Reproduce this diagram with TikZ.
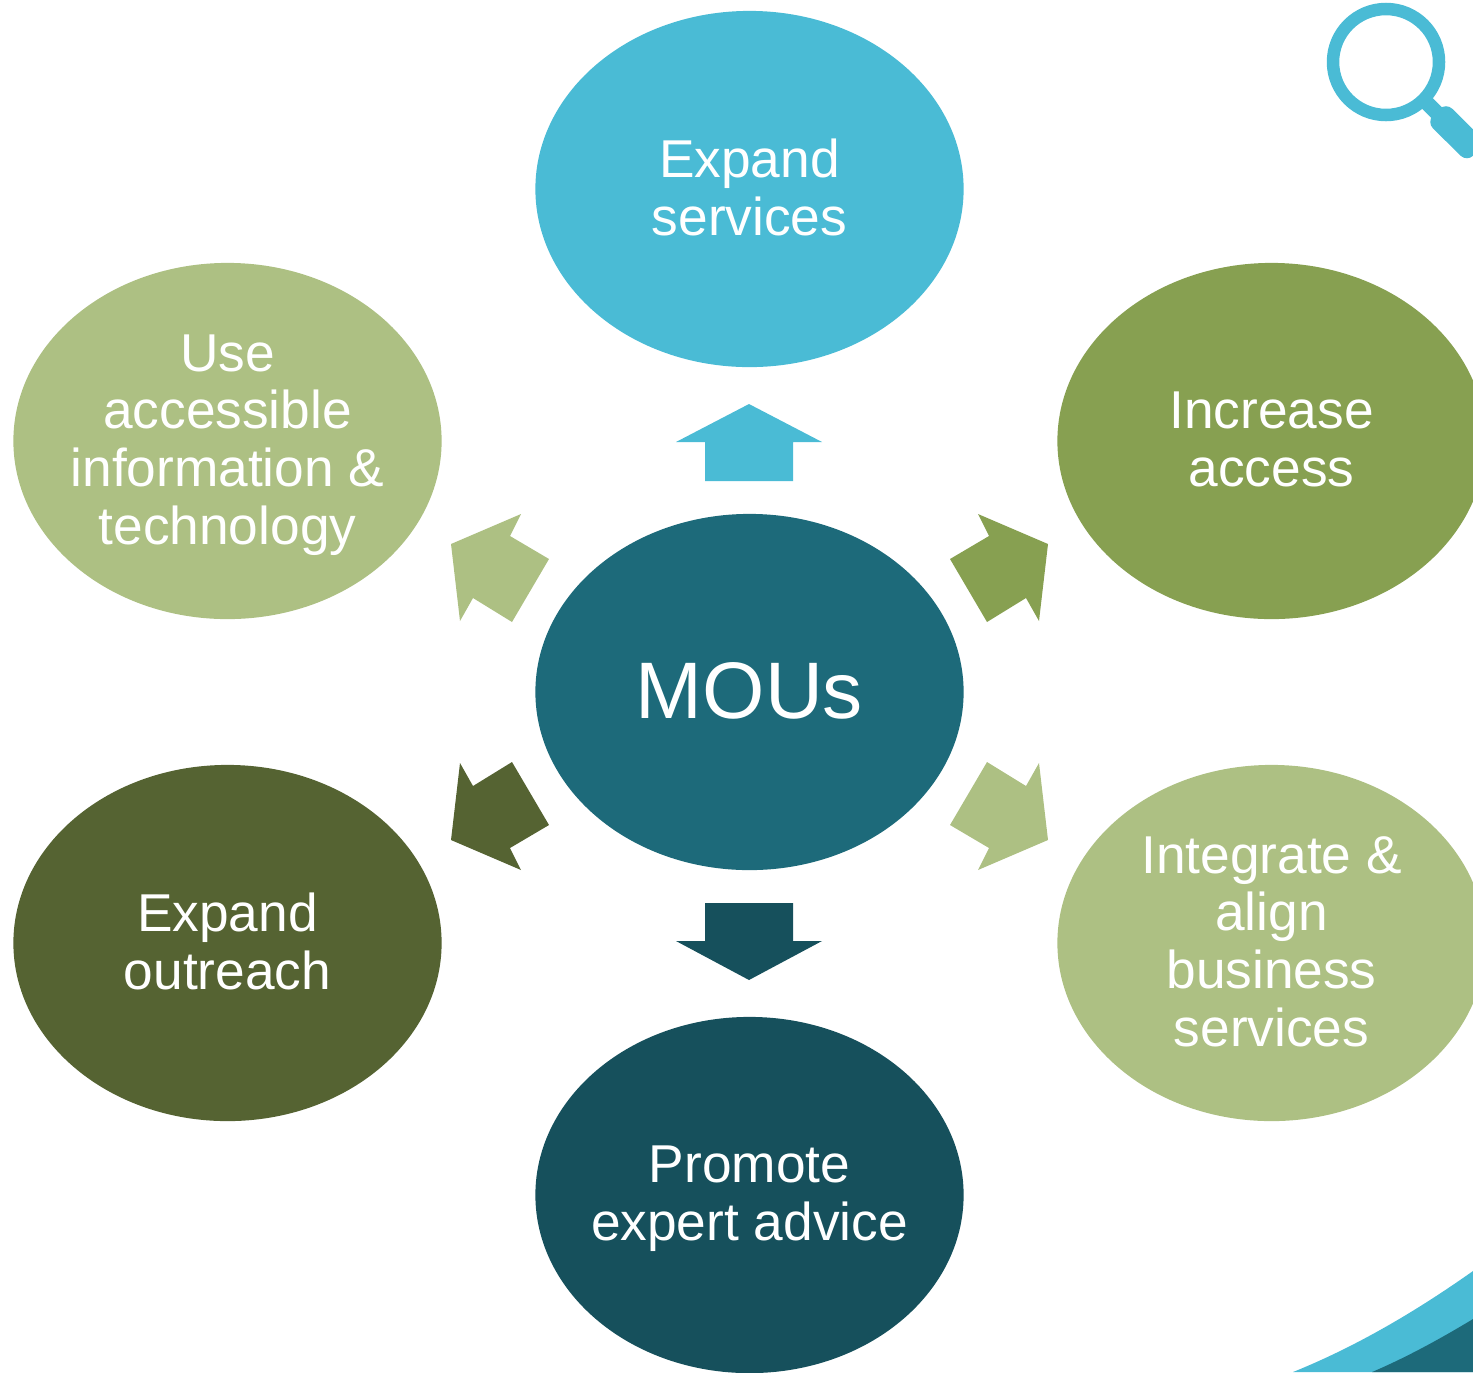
\documentclass[tikz,border=0pt]{standalone}
\usepackage{fontspec}
\setmainfont{Liberation Sans}
\usetikzlibrary{shapes.geometric}
\definecolor{skyteal}{HTML}{4ABBD5}
\definecolor{hubteal}{HTML}{1D6A7A}
\definecolor{deepteal}{HTML}{16505C}
\definecolor{midolive}{HTML}{87A051}
\definecolor{paleolive}{HTML}{ADC083}
\definecolor{darkolive}{HTML}{556332}
\tikzset{
  goal/.style={ellipse,minimum width=4.28cm,minimum height=3.56cm,inner xsep=-1cm,inner ysep=-0.5cm,align=center,text=white,
    text depth=1pt,font=\fontsize{15.15}{16.4}\selectfont},
}
\begin{document}
\begin{tikzpicture}[x=0.01cm,y=-0.01cm]
\useasboundingbox (0,0) rectangle (1473,1372);
\clip (0,0) rectangle (1473,1372);
% corner swoosh
\fill[skyteal] (1293,1372) .. controls (1355,1347) and (1415,1312) .. (1473,1271) -- (1473,1372) -- cycle;
\fill[hubteal] (1372,1372) .. controls (1405,1358) and (1440,1339) .. (1473,1319) -- (1473,1372) -- cycle;
% magnifier
\draw[skyteal,line width=0.125cm] (1386,62) circle (53);
\draw[skyteal,line width=0.15cm] (1422,98) -- (1442,118);
\fill[skyteal,rounded corners=0.09cm] (1446,102.5) -- (1426.5,122) -- (1467,162) -- (1486,142.5) -- cycle;
% ellipses
\node[goal,fill=hubteal,font=\fontsize{22.8}{26}\selectfont] (mous) at (749.5,692) {MOUs};
\node[goal,fill=skyteal] (expand) at (749.5,189) {Expand\\services};
\node[goal,fill=midolive] (access) at (1271.5,441) {Increase\\access};
\node[goal,fill=paleolive] (integrate) at (1271.5,943) {Integrate \&\\align\\business\\services};
\node[goal,fill=deepteal] (advice) at (749.5,1195) {Promote\\expert advice};
\node[goal,fill=darkolive] (outreach) at (227.5,943) {Expand\\outreach};
\node[goal,fill=paleolive] (tech) at (227.5,441) {Use\\accessible\\information \&\\technology};
% block arrows
\fill[skyteal] (749,404) -- (822,442) -- (793,442) -- (793,481) -- (705,481) -- (705,442) -- (676,442) -- cycle;
\fill[deepteal] (749,980) -- (822,941) -- (793,941) -- (793,903) -- (705,903) -- (705,941) -- (676,941) -- cycle;
\fill[midolive] (1048,544) -- (978,514) -- (989,536) -- (950,559) -- (987,622) -- (1026,598) -- (1039,621) -- cycle;
\fill[paleolive] (1048,840) -- (1039,763) -- (1026,786) -- (987,762) -- (950,825) -- (989,848) -- (978,870) -- cycle;
\fill[paleolive] (451,544) -- (521,514) -- (510,536) -- (549,559) -- (512,622) -- (473,598) -- (460,621) -- cycle;
\fill[darkolive] (451,840) -- (460,763) -- (473,786) -- (512,762) -- (549,825) -- (510,848) -- (521,870) -- cycle;
\end{tikzpicture}
\end{document}
